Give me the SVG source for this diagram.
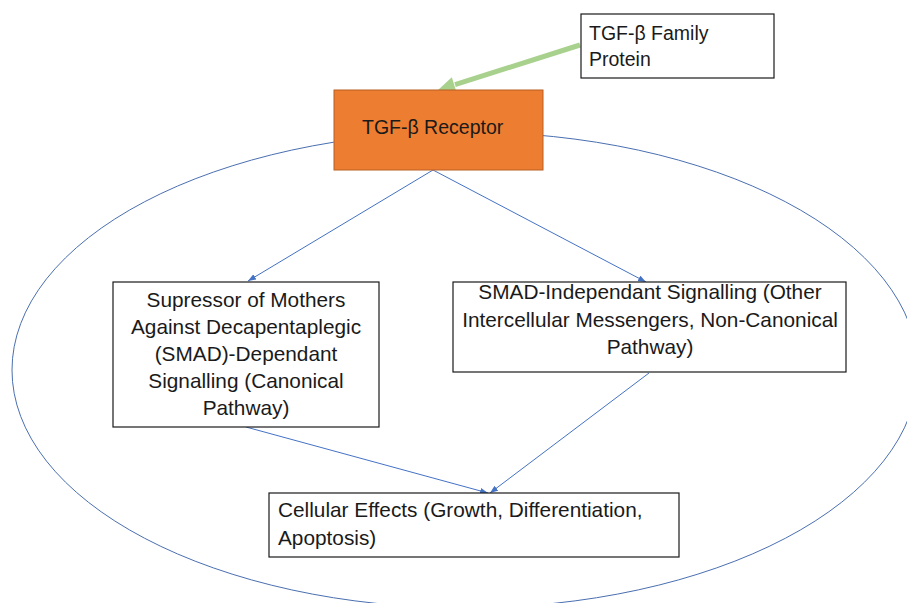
<svg xmlns="http://www.w3.org/2000/svg" width="907" height="603" viewBox="0 0 907 603">
<style>
.box{fill:#ffffff;stroke:#1a1a1a;stroke-width:1.2}
.t{font-family:"Liberation Sans",Arial,sans-serif;font-size:19.5px;fill:#1a1a1a}
.b{font-size:20.8px}
.c{text-anchor:middle}
.conn{stroke:#4472C4;stroke-width:1;fill:none}
</style>
<defs>
<marker id="ah" markerUnits="userSpaceOnUse" markerWidth="9" markerHeight="7" refX="8" refY="3" orient="auto">
<path d="M0,0 L8,3 L0,6 z" fill="#4472C4"/>
</marker>
</defs>
<rect width="907" height="603" fill="#ffffff"/>
<ellipse cx="465" cy="370" rx="453" ry="238" fill="none" stroke="#4a6fb0" stroke-width="1"/>
<g id="connectors">
<line class="conn" x1="433" y1="170" x2="248" y2="281" marker-end="url(#ah)"/>
<line class="conn" x1="433" y1="170" x2="646" y2="282" marker-end="url(#ah)"/>
<line class="conn" x1="246" y1="427" x2="488" y2="493" marker-end="url(#ah)"/>
<line class="conn" x1="649" y1="373" x2="490" y2="493" marker-end="url(#ah)"/>
<line x1="580" y1="45" x2="455" y2="84.6" stroke="#A9D18E" stroke-width="5"/>
<polygon points="438,90 456.6,92.5 451.8,77.3" fill="#A9D18E"/>
</g>
<g id="family">
<rect class="box" x="581" y="14" width="193" height="64"/>
<text class="t" x="589" y="40">TGF-β Family</text>
<text class="t" x="589" y="66">Protein</text>
</g>
<g id="receptor">
<rect x="334" y="90" width="209" height="80" fill="#ED7D31" stroke="#B85F22" stroke-width="1"/>
<text class="t" x="362" y="134">TGF-β Receptor</text>
</g>
<g id="smad-dependent">
<rect class="box" x="113" y="282" width="266" height="145"/>
<text class="t b c" x="246" y="307">Supressor of Mothers</text>
<text class="t b c" x="246" y="334">Against Decapentaplegic</text>
<text class="t b c" x="246" y="361">(SMAD)-Dependant</text>
<text class="t b c" x="246" y="388">Signalling (Canonical</text>
<text class="t b c" x="246" y="415">Pathway)</text>
</g>
<g id="smad-independent">
<rect class="box" x="453" y="282" width="393" height="90"/>
<text class="t b c" x="650" y="299">SMAD-Independant Signalling (Other</text>
<text class="t b c" x="650" y="327">Intercellular Messengers, Non-Canonical</text>
<text class="t b c" x="650" y="354">Pathway)</text>
</g>
<g id="effects">
<rect class="box" x="269" y="493" width="410" height="64"/>
<text class="t b" x="278" y="517">Cellular Effects (Growth, Differentiation,</text>
<text class="t b" x="278" y="545">Apoptosis)</text>
</g>
</svg>
